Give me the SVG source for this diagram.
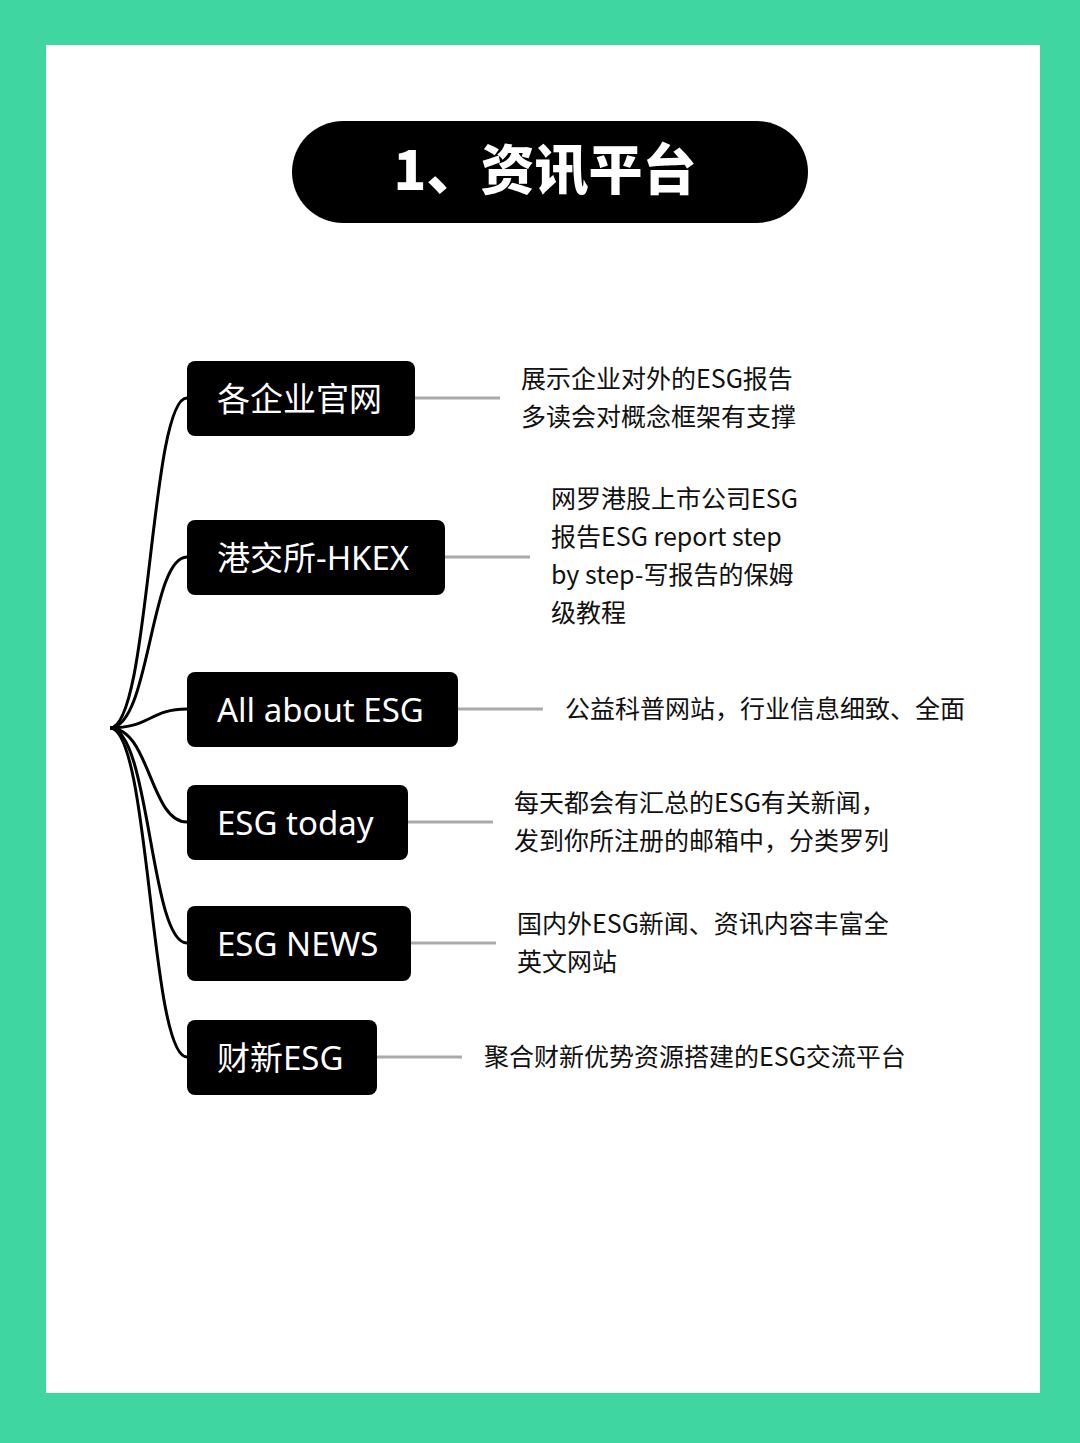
<svg xmlns="http://www.w3.org/2000/svg" width="1080" height="1443" viewBox="0 0 1080 1443">
<style>
.n{fill:#000}
.nt{fill:#fff;font-family:"Noto Sans","Noto Sans CJK SC",sans-serif;font-size:33px}
.d{fill:#111;font-family:"Noto Sans CJK SC",sans-serif;font-size:25px}
.c{fill:none;stroke:#000;stroke-width:3}
.g{stroke:#aaa;stroke-width:3}
</style>
<rect width="1080" height="1443" fill="#3fd6a2"/>
<rect x="46" y="45" width="994" height="1348" fill="#fff"/>
<g id="title"><rect x="292" y="121" width="516" height="102" rx="51" fill="#000"/>
<text x="545" y="190" text-anchor="middle" fill="#fff" font-family="Noto Sans CJK SC,sans-serif" font-weight="900" font-size="54">1、资讯平台</text></g>
<g id="connectors">
<path class="c" d="M110 728 C150 728 150 398 187 398"/>
<path class="c" d="M110 728 C150 728 150 557 187 557"/>
<path class="c" d="M110 728 C150 728 150 709 187 709"/>
<path class="c" d="M110 728 C150 728 150 822 187 822"/>
<path class="c" d="M110 728 C150 728 150 943 187 943"/>
<path class="c" d="M110 728 C150 728 150 1057 187 1057"/>
<line class="g" x1="415" y1="398" x2="500" y2="398"/>
<line class="g" x1="445" y1="557" x2="530" y2="557"/>
<line class="g" x1="458" y1="709" x2="543" y2="709"/>
<line class="g" x1="408" y1="822" x2="493" y2="822"/>
<line class="g" x1="411" y1="943" x2="496" y2="943"/>
<line class="g" x1="377" y1="1057" x2="462" y2="1057"/>
</g>
<g id="n1"><rect class="n" x="187" y="361" width="228" height="75" rx="8"/><text class="nt" x="217" y="411">各企业官网</text>
<text class="d" x="521" y="388">展示企业对外的ESG报告</text><text class="d" x="521" y="426">多读会对概念框架有支撑</text></g>
<g id="n2"><rect class="n" x="187" y="520" width="258" height="75" rx="8"/><text class="nt" x="217" y="570">港交所-HKEX</text>
<text class="d" x="551" y="508">网罗港股上市公司ESG</text><text class="d" x="551" y="546">报告ESG report step</text><text class="d" x="551" y="584">by step-写报告的保姆</text><text class="d" x="551" y="622">级教程</text></g>
<g id="n3"><rect class="n" x="187" y="672" width="271" height="75" rx="8"/><text class="nt" x="217" y="722">All about ESG</text>
<text class="d" x="565" y="718">公益科普网站，行业信息细致、全面</text></g>
<g id="n4"><rect class="n" x="187" y="785" width="221" height="75" rx="8"/><text class="nt" x="217" y="835">ESG today</text>
<text class="d" x="514" y="812">每天都会有汇总的ESG有关新闻，</text><text class="d" x="514" y="850">发到你所注册的邮箱中，分类罗列</text></g>
<g id="n5"><rect class="n" x="187" y="906" width="224" height="75" rx="8"/><text class="nt" x="217" y="956">ESG NEWS</text>
<text class="d" x="517" y="933">国内外ESG新闻、资讯内容丰富全</text><text class="d" x="517" y="971">英文网站</text></g>
<g id="n6"><rect class="n" x="187" y="1020" width="190" height="75" rx="8"/><text class="nt" x="217" y="1070">财新ESG</text>
<text class="d" x="484" y="1066">聚合财新优势资源搭建的ESG交流平台</text></g>
</svg>
